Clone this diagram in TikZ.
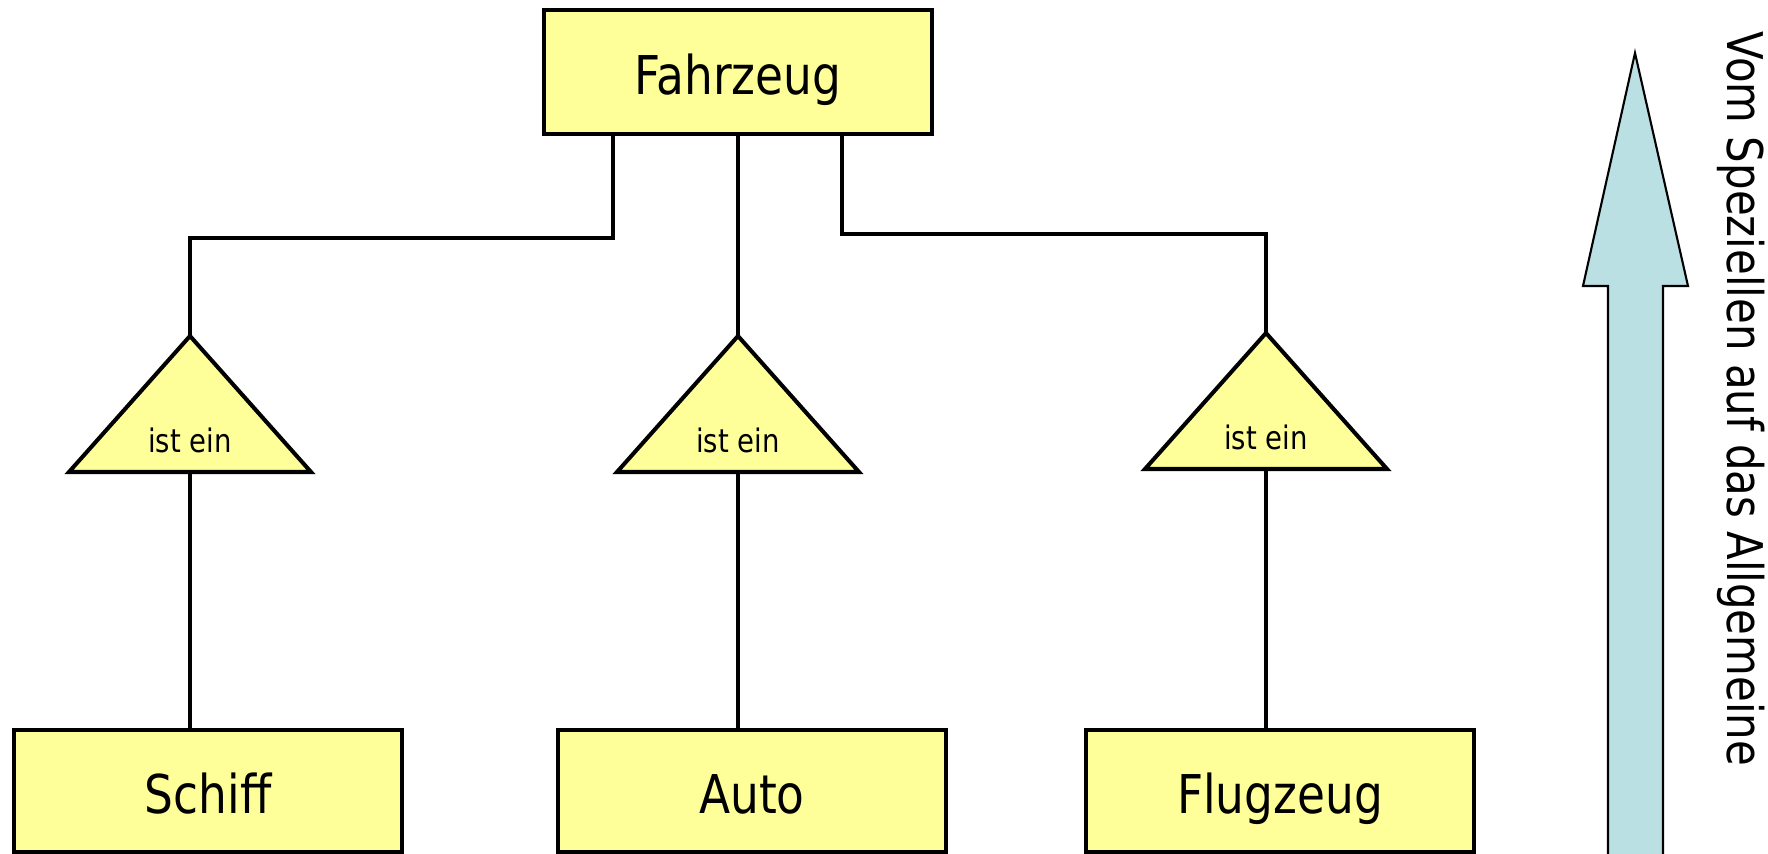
\documentclass[tikz,border=0pt]{standalone}
\usepackage{fontspec}
\setmainfont{DejaVu Sans}[FakeStretch=0.85]
\definecolor{gelb}{HTML}{FFFF99}
\definecolor{hellblau}{HTML}{BBE0E3}
\begin{document}
\begin{tikzpicture}[x=0.01cm,y=-0.01cm]
        \tikzstyle{klasse} = [draw,fill=gelb,line width=1.15pt,minimum width=3.87cm,minimum height=1.24cm,text height=13pt,text depth=0pt,font=\fontsize{15.2}{18}\selectfont]
        \tikzstyle{linie} = [line width=1.2pt]
        \tikzstyle{dreieck} = [draw,fill=gelb,line width=1.15pt]
        \tikzstyle{istein} = [font=\fontsize{9.2}{11}\selectfont]
        \tikzstyle{pfeil} = [draw,fill=hellblau,line width=0.6pt]

        \useasboundingbox (0,0) rectangle (1768,854);

        \node[klasse] (F) at (738,72){Fahrzeug};
        \node[klasse,minimum height=1.21cm] (S) at (208,791){Schiff};
        \node[klasse,minimum height=1.21cm] (A) at (752,791){Auto};
        \node[klasse,minimum height=1.21cm] (L) at (1280,791){Flugzeug};

        \foreach \x/\y/\n in {190/336/1, 738/336/2, 1266/333/3}{
            \coordinate (spitze\n) at (\x,\y);
            \coordinate (basis\n) at (\x,\y+136);
            \draw[dreieck] (spitze\n) -- ++(121,136) -- ++(-242,0) -- cycle;
            \node[istein] (ist\n) at (\x,\y+104){ist ein};
        }

        \draw[linie] ([xshift=-1.25cm]F.south) -- ++(0,102) -| (spitze1);
        \draw[linie] (F.south) -- (spitze2);
        \draw[linie] ([xshift=1.04cm]F.south) -- ++(0,98) -| (spitze3);

        \draw[linie] (basis1) -- (basis1 |- S.north);
        \draw[linie] (basis2) -- (basis2 |- A.north);
        \draw[linie] (basis3) -- (basis3 |- L.north);

        \draw[pfeil] (1608,860) -- (1608,286) -- (1583,286) -- (1635,53) -- (1688,286) -- (1663,286) -- (1663,860);
        \node[rotate=-90,font=\fontsize{14}{17}\selectfont] (T) at (1741,399){Vom Speziellen auf das Allgemeine};

    \end{tikzpicture}
\end{document}
